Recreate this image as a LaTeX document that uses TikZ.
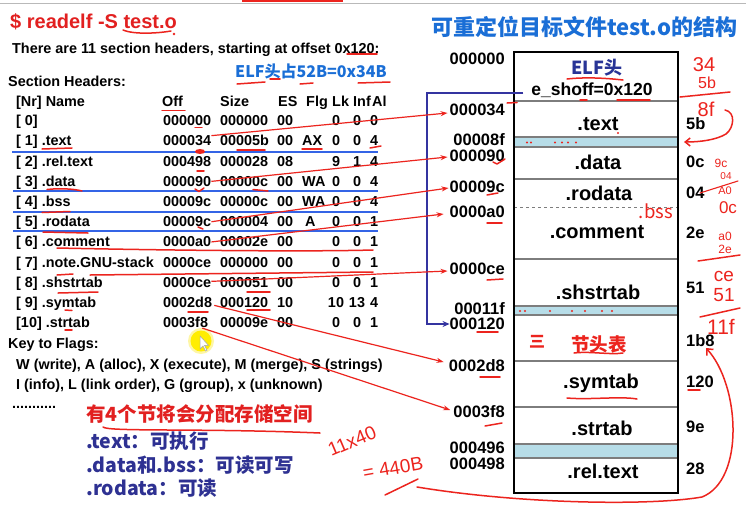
\documentclass[tikz,border=0pt]{standalone}
\usepackage{fontspec}
\setmainfont{Liberation Sans}
\newfontfamily\cjk{Noto Sans CJK SC}
\usetikzlibrary{arrows.meta,calc}

\definecolor{cmdred}{RGB}{226,32,32}
\definecolor{penred}{RGB}{236,36,30}
\definecolor{titleblue}{RGB}{26,110,214}
\definecolor{navy}{RGB}{46,49,146}
\definecolor{elfnavy}{RGB}{40,52,150}
\definecolor{markblue}{RGB}{52,100,230}
\definecolor{ptrnavy}{RGB}{52,52,160}
\definecolor{padblue}{RGB}{183,221,232}
\definecolor{rulegray}{RGB}{125,125,125}

% one line of the readelf section table
\newcommand\shrow[9]{%
  \pgfmathsetmacro\rowy{125.7+20.2*#1}%
  \node[tbl] (nm#1) at (16,\rowy) {#2};%
  \node[tbl] (off#1) at (163,\rowy) {#3};%
  \node[tbl] (sz#1) at (220,\rowy) {#4};%
  \node[tbl] (es#1) at (277,\rowy) {#5};%
  \node[tbl] (fl#1) at (302,\rowy) {#6};%
  \node[tblc] (lk#1) at (336,\rowy) {#7};%
  \node[tblc] (inf#1) at (357,\rowy) {#8};%
  \node[tblc] (al#1) at (374,\rowy) {#9};%
}

\begin{document}
\begin{tikzpicture}[x=1pt,y=-1pt,
  tbl/.style={anchor=base west,inner sep=0pt,font=\fontsize{14.4}{16}\selectfont\bfseries},
  tblc/.style={anchor=base,inner sep=0pt,font=\fontsize{14.4}{16}\selectfont\bfseries},
  addr/.style={anchor=east,inner sep=0pt,font=\fontsize{16.5}{18}\selectfont\bfseries},
  szlab/.style={anchor=west,inner sep=0pt,font=\fontsize{16.5}{18}\selectfont\bfseries},
  boxlab/.style={inner sep=0pt,font=\fontsize{20}{22}\selectfont\bfseries},
  note/.style={anchor=west,inner sep=0pt,text=navy,font=\cjk\fontsize{19.5}{22}\selectfont\bfseries},
  pen/.style={penred,line width=1.5pt,line cap=round,line join=round},
  hand/.style={inner sep=0pt,text=penred,font=\fontsize{13}{14}\selectfont},
  link/.style={penred,line width=1.2pt,-{Stealth[length=7pt,width=5pt]}},
  blueunder/.style={markblue,line width=2pt},
  pad/.style={fill=padblue},
  divider/.style={rulegray,line width=1.1pt}]
\useasboundingbox (0,0) rectangle (746,504);
\fill[white] (0,0) rectangle (746,504);

% window edge at the top
\draw[gray!55,line width=0.8pt] (0,3) -- (746,3);
\fill[penred] (242,0) rectangle (343,2.2);

% ---------------- left: readelf output ----------------
\node[anchor=base west,inner sep=0pt,text=cmdred,font=\fontsize{20}{22}\selectfont\bfseries] (cmd) at (10,28.5) {\$ readelf -S test.o};
\node[tbl] (intro) at (12,53) {There are 11 section headers, starting at offset 0x120:};
\node[anchor=west,inner sep=0pt,text=titleblue,font=\cjk\fontsize{16}{18}\selectfont\bfseries] (elfsize) at (235,71.5) {ELF头占52B=0x34B};
\node[tbl] (shdr) at (8,86) {Section Headers:};

\node[tbl] (hnr) at (16,106) {[Nr] Name};
\node[tbl] (hoff) at (162,106) {Off};
\node[tbl] (hsz) at (220,106) {Size};
\node[tbl] (hes) at (278,106) {ES};
\node[tbl] (hfl) at (306,106) {Flg};
\node[tbl] (hlk) at (332,106) {Lk};
\node[tbl] (hinf) at (353,106) {Inf};
\node[tbl] (hal) at (372,106) {Al};

% cursor highlight
\fill[yellow!90!orange,opacity=0.35] (201,341) circle (13);
\fill[yellow!95!orange] (201,341) circle (10.5);
\draw[gray!70,fill=white,line width=0.5pt] (200,336) -- (200,349) -- (203,346) -- (205.5,351) -- (207,350.3) -- (204.6,345.4) -- (208.6,345.4) -- cycle;

\shrow{0}{[ 0]}{000000}{000000}{00}{}{0}{0}{0}
\shrow{1}{[ 1] .text}{000034}{00005b}{00}{AX}{0}{0}{4}
\shrow{2}{[ 2] .rel.text}{000498}{000028}{08}{}{9}{1}{4}
\shrow{3}{[ 3] .data}{000090}{00000c}{00}{WA}{0}{0}{4}
\shrow{4}{[ 4] .bss}{00009c}{00000c}{00}{WA}{0}{0}{4}
\shrow{5}{[ 5] .rodata}{00009c}{000004}{00}{\hspace{3pt}A}{0}{0}{1}
\shrow{6}{[ 6] .comment}{0000a0}{00002e}{00}{}{0}{0}{1}
\shrow{7}{[ 7] .note.GNU-stack}{0000ce}{000000}{00}{}{0}{0}{1}
\shrow{8}{[ 8] .shstrtab}{0000ce}{000051}{00}{}{0}{0}{1}
\shrow{9}{[ 9] .symtab}{0002d8}{000120}{10}{}{10}{13}{4}
\shrow{10}{[10] .strtab}{0003f8}{00009e}{00}{}{0}{0}{1}

\node[tbl] (key) at (8,348) {Key to Flags:};
\node[tbl] (key1) at (16,369) {W (write), A (alloc), X (execute), M (merge), S (strings)};
\node[tbl] (key2) at (16,389) {I (info), L (link order), G (group), x (unknown)};
\node[tbl] (dots) at (12,408) {...........};

% blue rules under the allocated sections
\draw[blueunder] (12,152) -- (378,152);
\draw[blueunder] (13,191) -- (378,191);
\draw[blueunder] (13,211.5) -- (378,211.5);
\draw[blueunder] (13,231) -- (378,231);

% notes in Chinese
\node[anchor=west,inner sep=0pt,text=cmdred,font=\cjk\fontsize{19.5}{22}\selectfont\bfseries] (alloc) at (86,414) {有4个节将会分配存储空间};
\node[note] (ntext) at (86,441) {.text：可执行};
\node[note] (ndata) at (86,465) {.data和.bss：可读可写};
\node[note] (nrod) at (86,488.5) {.rodata：可读};

% ---------------- right: file layout ----------------
\node[anchor=west,inner sep=0pt,text=titleblue,font=\cjk\fontsize{22}{24}\selectfont\bfseries] (rtitle) at (431,26.5) {可重定位目标文件test.o的结构};

\fill[pad] (514,137) rectangle (678,147);
\fill[pad] (514,306) rectangle (678,315);
\fill[pad] (514,444) rectangle (678,458);
\foreach \yy in {101,137,147,179,259,306,315,361,407,444,458}
  \draw[divider] (514,\yy) -- (678,\yy);
\draw[rulegray,dashed,line width=0.6pt] (514,207) -- (678,207);
\draw[black,line width=2.5pt] (514,52) rectangle (678,493);

\node[inner sep=0pt,text=elfnavy,font=\cjk\fontsize{18}{20}\selectfont\bfseries] (elf) at (597,68) {ELF头};
\node[inner sep=0pt,font=\fontsize{17.5}{19}\selectfont\bfseries] (eshoff) at (592,90) {e\_shoff=0x120};
\node[boxlab] (btext) at (598,124) {.text};
\node[boxlab] (bdata) at (598,162) {.data};
\node[boxlab] (brod) at (599,193) {.rodata};
\node[anchor=east,inner sep=0pt,text=penred,font=\cjk\fontsize{18.5}{20}\selectfont] (bbss) at (673,211) {.bss};
\node[boxlab] (bcom) at (597,232) {.comment};
\node[boxlab] (bshs) at (598,292) {.shstrtab};
\node[inner sep=0pt,text=penred,font=\cjk\fontsize{18.5}{20}\selectfont\bfseries] (bsht) at (599,344) {节头表};
\node[inner sep=0pt,text=penred,font=\cjk\fontsize{16}{18}\selectfont\bfseries] (three) at (537,342) {三};
\node[boxlab] (bsym) at (601,383) {.symtab};
\node[boxlab] (bstr) at (602,428) {.strtab};
\node[boxlab] (brel) at (603,471) {.rel.text};

% offsets on the left of the layout
\node[addr] (a000) at (505,59) {000000};
\node[addr] (a034) at (505,110) {000034};
\node[addr] (a08f) at (505,140) {00008f};
\node[addr] (a090) at (505,156) {000090};
\node[addr] (a09c) at (505,186.5) {00009c};
\node[addr] (a0a0) at (505,212) {0000a0};
\node[addr] (a0ce) at (505,269) {0000ce};
\node[addr] (a11f) at (505,309) {00011f};
\node[addr] (a120) at (505,324) {000120};
\node[addr] (a2d8) at (505,366) {0002d8};
\node[addr] (a3f8) at (505,412) {0003f8};
\node[addr] (a496) at (505,448) {000496};
\node[addr] (a498) at (505,464) {000498};

% sizes on the right of the layout
\node[szlab] (s5b) at (686,124) {5b};
\node[szlab] (s0c) at (686,162) {0c};
\node[szlab] (s04) at (686,193) {04};
\node[szlab] (s2e) at (686,233) {2e};
\node[szlab] (s51) at (686,288) {51};
\node[szlab] (s1b8) at (686,341) {1b8};
\node[szlab] (s120) at (686,382) {120};
\node[szlab] (s9e) at (686,427) {9e};
\node[szlab] (s28) at (686,469) {28};

% e_shoff points at the section header table
\coordinate (ptrcorner) at (427,93);
\draw[ptrnavy,line width=2pt,-{Stealth[length=7pt,width=6pt]}]
  ($(eshoff.west)+(-8,3)$) -- (ptrcorner) |- (a120.west);

% section offsets to their place in the file
\draw[link] (off1.north east) -- ($(a034.west)+(-2,3)$);
\draw[link] (off3.east) -- ($(a090.west)+(-2,1)$);
\draw[link] (off5.east) -- ($(a09c.west)+(-1,1.5)$);
\draw[link] (off6.east) -- ($(a0a0.west)+(-6,2)$);
\draw[link] ($(off8.east)+(0,-1)$) -- ($(a0ce.west)+(-2,2)$);
\draw[link] ($(off9.east)+(2,3)$) -- ($(a2d8.west)+(-5,-4)$);
\draw[link] ($(off10.south east)+(-6,0)$) -- ($(a3f8.west)+(-3,-2)$);

% ---------------- pen marks ----------------
% left column
\draw[pen] (123,30) .. controls (135,35) and (160,33) .. (171,31);
\fill[penred] (174,34) circle (1.3);
\draw[pen] (347,54) -- (377,54);
\draw[pen] (237,84) -- (265,82);
\draw[pen] (270,79) -- (280,79);
\draw[pen] (300,84) -- (313,83);
\draw[pen] (358,83) -- (390,82);
\draw[pen] (162,110.5) -- (185,110.5);
\draw[pen] (195,127.5) -- (202,127.5);
\draw[pen] (42,149) -- (72,148);
\fill[penred] (200,151.5) ellipse (5 and 2.5);
\draw[pen] (237,150) -- (265,150);
\draw[pen] (302,149) -- (322,149);
\draw[pen] (370,148) -- (381,146);
\draw[pen] (197,171) -- (204,171);
\draw[pen] (47,189.5) .. controls (60,188) and (75,189) .. (82,191);
\draw[pen] (195,189) -- (199,191.5) -- (204,188);
\draw[pen] (253,189.5) -- (268,191);
\draw[pen] (42,212.5) -- (70,211.5);
\draw[pen] (43,232) -- (88,233);
\draw[pen] (198,227) -- (203,229);
\draw[pen] (57,248) .. controls (150,250) and (300,252) .. (373,250);
\draw[pen] (57,275) -- (73,274);
\draw[pen] (90,275) -- (373,272);
\draw[pen] (58,293) -- (98,292);
\draw[pen] (247,292) -- (270,292);
\draw[pen] (65,310) -- (72,310.5);
\draw[pen] (188,312) -- (208,312);
\draw[pen] (247,310) -- (270,310);
\draw[pen] (65,330) -- (72,330);
\draw[pen] (103,427) .. controls (108,432) and (200,428) .. (320,433);
% layout
\draw[pen] (567,79) .. controls (585,77) and (605,78) .. (623,80);
\draw[pen] (580,100) -- (587,100);
\draw[pen] (617,100) -- (650,100);
\draw[pen] (507,103) -- (517,102.5);
\fill[penred] (618,133) circle (1.2);
\foreach \xx in {527,531,555,562,568,576}
  \fill[penred] (\xx,142.5) circle (1.2);
\foreach \xx in {520,525,550,572,585,602,612}
  \fill[penred] (\xx,311) circle (1.2);
\draw[pen] (493,162) -- (497,164) -- (505,159);
\draw[pen] (487,195) -- (498,193);
\draw[pen] (487,223) -- (502,223);
\draw[pen] (487,280) -- (503,279);
\draw[pen] (477,332) -- (498,332);
\draw[pen] (480,377) -- (500,377);
\draw[pen] (485,426) -- (502,423);
\draw[pen] (574,353) .. controls (590,351) and (610,355) .. (623,353);
\draw[pen] (567,398) .. controls (590,400) and (620,396) .. (637,399);
\draw[pen] (688,390) -- (700,390);

% sums in the margin
\node[hand,font=\fontsize{20}{22}\selectfont] (m34) at (704,65) {34};
\node[hand,font=\fontsize{16}{18}\selectfont] (m5b) at (707,83) {5b};
\draw[pen] (680,97) -- (730,92);
\node[hand,font=\fontsize{20}{22}\selectfont] (m8f) at (706,109) {8f};
\draw[pen,-{Straight Barb[length=5pt,width=8pt]}] (725,110) .. controls (736,112) and (734,128) .. (726,134) .. controls (716,140) and (700,142) .. (684,142);
\node[hand,font=\fontsize{12}{13}\selectfont] (m9c) at (721,163) {9c};
\node[hand,font=\fontsize{10}{11}\selectfont] (m04) at (726,176) {04};
\draw[pen,line width=1.1pt] (700,193) -- (738,181);
\node[hand,font=\fontsize{11}{12}\selectfont] (ma0) at (725,191) {A0};
\node[hand,font=\fontsize{17}{18}\selectfont] (m0c) at (728,208) {0c};
\node[hand,font=\fontsize{12}{13}\selectfont] (ma0b) at (725,236) {a0};
\node[hand,font=\fontsize{12}{13}\selectfont] (m2e) at (725,249) {2e};
\draw[pen] (698,261) -- (740,255);
\node[hand,font=\fontsize{19}{20}\selectfont] (mce) at (724,276) {ce};
\node[hand,font=\fontsize{19}{20}\selectfont] (m51) at (724,295) {51};
\draw[pen] (700,317) -- (740,308);
\node[hand,font=\fontsize{21}{22}\selectfont] (m11f) at (721,327) {11f};

% size of the section header table
\node[hand,font=\fontsize{19}{20}\selectfont,rotate=23] (m11x40) at (352,441) {11x40};
\node[hand,font=\fontsize{19}{20}\selectfont,rotate=10] (m440) at (393,468) {= 440B};
\draw[pen] (385,495) -- (418,479);
\draw[pen,-{Straight Barb[length=5pt,width=9pt]}] (417,487) .. controls (520,504) and (650,506) .. (702,497) .. controls (745,480) and (740,385) .. (706,348);
\end{tikzpicture}
\end{document}
